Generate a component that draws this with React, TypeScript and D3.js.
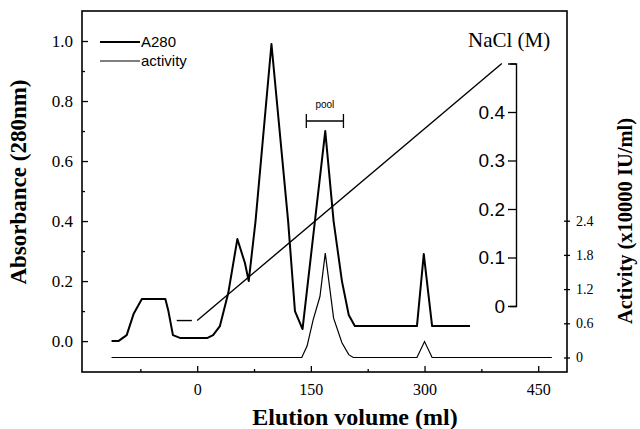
import React, { useRef, useEffect } from "react";
import * as d3 from "d3";

// A280 trace (elution volume in ml, absorbance)
const a280Volume = [-113, -104, -93, -84, -73, -42, -38, -32, -22, 13, 21, 30, 41, 53, 63, 68, 77, 98, 120, 129, 139, 169, 180, 191, 200, 208, 290, 299, 310, 360];
const a280Abs = [0, 0, 0.02, 0.09, 0.14, 0.14, 0.1, 0.02, 0.01, 0.01, 0.02, 0.05, 0.16, 0.34, 0.26, 0.2, 0.4, 0.99, 0.4, 0.1, 0.04, 0.7, 0.4, 0.2, 0.087, 0.05, 0.05, 0.29, 0.05, 0.05];

// activity trace (x10000 IU/ml)
const actVolume = [-113, 138, 145, 153, 162, 169, 180, 191, 200, 206, 290, 300, 310, 468];
const actValue = [0, 0, 0.2, 0.66, 1.07, 1.83, 0.69, 0.26, 0.05, 0, 0, 0.28, 0, 0];

// NaCl gradient (M)
const holdVolume = [-27, -7];
const holdNaCl = [-0.03, -0.03];
const gradVolume = [0, 402];
const gradNaCl = [-0.03, 0.5];

const poolRange = [144, 193];

const xTicks = [0, 150, 300, 450];
const xMinor = [-75, 75, 225, 375];
const absTicks = [0, 0.2, 0.4, 0.6, 0.8, 1.0];
const absMinor = [0.1, 0.3, 0.5, 0.7, 0.9];
const actTicks = [0, 0.6, 1.2, 1.8, 2.4];
const naclTicks = [0, 0.1, 0.2, 0.3, 0.4, 0.5];
const naclLabels = ["0", "0.1", "0.2", "0.3", "0.4", ""];

const serif = "'Liberation Serif', 'Times New Roman', serif";
const sans = "'Liberation Sans', Arial, sans-serif";

const App = () => {
	const svgRef = useRef(null);

	useEffect(() => {
		const svg = d3.select(svgRef.current);
		svg.selectAll("*").remove();

		const x = d3.scaleLinear().domain([-152, 488]).range([82, 567]);
		const yAbs = d3.scaleLinear().domain([-0.103, 1.1]).range([372, 11]);
		const yAct = d3.scaleLinear().domain([0, 2.4]).range([357.5, 220.7]);
		const yNacl = d3.scaleLinear().domain([0, 0.5]).range([306, 63.5]);

		// frame
		svg.append("rect")
			.attr("x", x(-152))
			.attr("y", yAbs(1.1))
			.attr("width", x(488) - x(-152))
			.attr("height", yAbs(-0.103) - yAbs(1.1))
			.attr("fill", "none")
			.attr("stroke", "#000")
			.attr("stroke-width", 1.6);

		const styleAxis = (g, size, family) => {
			g.select(".domain").remove();
			g.selectAll("line").attr("stroke", "#000").attr("stroke-width", 1.3);
			g.selectAll("text").attr("font-size", size).attr("font-family", family).attr("fill", "#000");
		};

		// bottom axis
		svg.append("g")
			.attr("transform", `translate(0, ${yAbs(-0.103)})`)
			.call(d3.axisBottom(x).tickValues(xTicks).tickSize(-6).tickPadding(12))
			.call(g => styleAxis(g, 16, serif));
		svg.append("g")
			.attr("transform", `translate(0, ${yAbs(-0.103)})`)
			.call(d3.axisBottom(x).tickValues(xMinor).tickSize(-3).tickFormat(() => ""))
			.call(g => styleAxis(g, 16, serif));

		// left axis
		svg.append("g")
			.attr("transform", `translate(${x(-152)}, 0)`)
			.call(d3.axisLeft(yAbs).tickValues(absTicks).tickSize(-6).tickPadding(9).tickFormat(d3.format(".1f")))
			.call(g => styleAxis(g, 17, serif));
		svg.append("g")
			.attr("transform", `translate(${x(-152)}, 0)`)
			.call(d3.axisLeft(yAbs).tickValues(absMinor).tickSize(-3).tickFormat(() => ""))
			.call(g => styleAxis(g, 17, serif));

		// right activity axis
		svg.append("g")
			.attr("transform", `translate(${x(488)}, 0)`)
			.call(d3.axisRight(yAct).tickValues(actTicks).tickSize(3).tickPadding(6)
				.tickFormat(d => (d === 0 ? "0" : d3.format(".1f")(d))))
			.call(g => styleAxis(g, 14, serif))
			.call(g => g.selectAll("line").attr("x1", -3));

		// NaCl axis
		const naclAxis = svg.append("g")
			.attr("transform", "translate(516, 0)")
			.call(d3.axisLeft(yNacl).tickValues(naclTicks).tickSize(8).tickSizeOuter(6).tickPadding(3)
				.tickFormat((d, i) => naclLabels[i]));
		naclAxis.select(".domain").attr("stroke", "#000").attr("stroke-width", 1.4).attr("fill", "none");
		naclAxis.selectAll("line").attr("stroke", "#000").attr("stroke-width", 1.3);
		naclAxis.selectAll("text").attr("font-size", 19).attr("font-family", sans).attr("fill", "#000");

		svg.append("text")
			.attr("x", 468)
			.attr("y", 47)
			.attr("font-family", serif)
			.attr("font-size", 21)
			.text("NaCl (M)");

		// traces
		const absLine = d3.line().x(d => x(d[0])).y(d => yAbs(d[1]));
		const actLine = d3.line().x(d => x(d[0])).y(d => yAct(d[1]));
		const naclLine = d3.line().x(d => x(d[0])).y(d => yNacl(d[1]));

		svg.append("path")
			.datum(d3.zip(a280Volume, a280Abs))
			.attr("d", absLine)
			.attr("fill", "none")
			.attr("stroke", "#000")
			.attr("stroke-width", 2)
			.attr("stroke-linejoin", "round");

		svg.append("path")
			.datum(d3.zip(actVolume, actValue))
			.attr("d", actLine)
			.attr("fill", "none")
			.attr("stroke", "#000")
			.attr("stroke-width", 1.2);

		[d3.zip(holdVolume, holdNaCl), d3.zip(gradVolume, gradNaCl)].forEach(seg => {
			svg.append("path")
				.datum(seg)
				.attr("d", naclLine)
				.attr("fill", "none")
				.attr("stroke", "#000")
				.attr("stroke-width", 1.4);
		});

		// pool bracket
		const py = 121;
		const pool = svg.append("g").attr("stroke", "#000").attr("stroke-width", 1.3);
		pool.append("line").attr("x1", x(poolRange[0])).attr("x2", x(poolRange[1])).attr("y1", py).attr("y2", py);
		poolRange.forEach(v => {
			pool.append("line").attr("x1", x(v)).attr("x2", x(v)).attr("y1", py - 7).attr("y2", py + 7);
		});
		svg.append("text")
			.attr("x", x((poolRange[0] + poolRange[1]) / 2))
			.attr("y", 108)
			.attr("text-anchor", "middle")
			.attr("font-family", sans)
			.attr("font-size", 10)
			.text("pool");

		// legend
		const legend = [
			{ label: "A280", width: 2.2, y: 42 },
			{ label: "activity", width: 1.2, y: 61 },
		];
		legend.forEach(l => {
			svg.append("line")
				.attr("x1", 100).attr("x2", 140)
				.attr("y1", l.y).attr("y2", l.y)
				.attr("stroke", "#000")
				.attr("stroke-width", l.width);
			svg.append("text")
				.attr("x", 141)
				.attr("y", l.y + 5)
				.attr("font-family", sans)
				.attr("font-size", 15)
				.text(l.label);
		});

		// axis titles
		svg.append("text")
			.attr("transform", "translate(355, 425)")
			.attr("text-anchor", "middle")
			.attr("font-family", serif)
			.attr("font-weight", "bold")
			.attr("font-size", 24)
			.text("Elution volume (ml)");

		svg.append("text")
			.attr("transform", "translate(26, 182) rotate(-90)")
			.attr("text-anchor", "middle")
			.attr("font-family", serif)
			.attr("font-weight", "bold")
			.attr("font-size", 23)
			.text("Absorbance (280nm)");

		svg.append("text")
			.attr("transform", "translate(632, 221) rotate(-90)")
			.attr("text-anchor", "middle")
			.attr("font-family", serif)
			.attr("font-weight", "bold")
			.attr("font-size", 20.5)
			.text("Activity (x10000 IU/ml)");
	}, []);

	return (
		<div>
			<svg ref={svgRef} width={640} height={429}
				style={{ position: "absolute", left: 0, top: 0, background: "#fff" }}>
			</svg>
		</div>
	);
};

export default App;
